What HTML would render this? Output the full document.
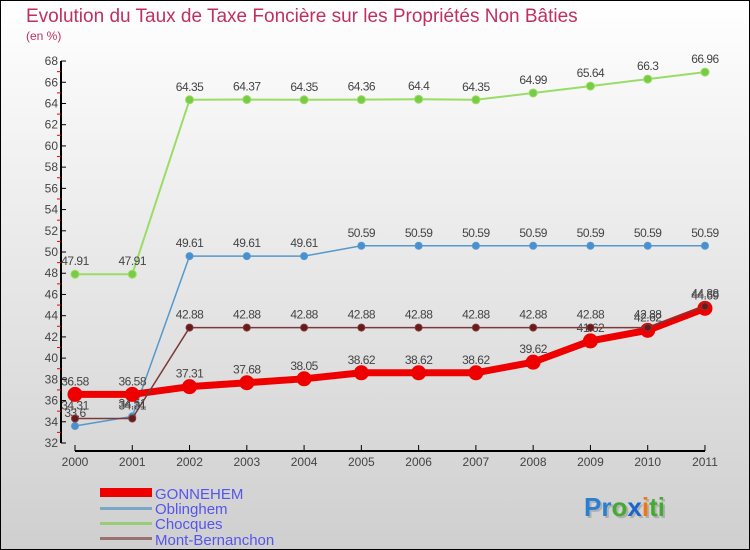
<!DOCTYPE html>
<html><head><meta charset="utf-8"><style>
body{margin:0}
svg{display:block;font-family:"Liberation Sans",sans-serif}
</style></head><body>
<svg id="c" width="750" height="550" xmlns="http://www.w3.org/2000/svg">
<defs><linearGradient id="bg" x1="0" y1="0" x2="0" y2="1"><stop offset="0" stop-color="#ffffff"/><stop offset="1" stop-color="#cfcfcf"/></linearGradient></defs>
<rect x="0.5" y="0.5" width="749" height="549" fill="url(#bg)" stroke="#000"/>
<text x="26" y="22" font-size="19" fill="#c0305f">Evolution du Taux de Taxe Foncière sur les Propriétés Non Bâties</text>
<text x="26" y="40" font-size="12" fill="#c0305f">(en %)</text>
<g id="axes"></g><g id="series"></g>
<g>
<rect x="100" y="488" width="52" height="9" fill="#ee0000"/>
<text x="155" y="499" font-size="15" fill="#5555ee">GONNEHEM</text>
<rect x="100" y="507" width="52" height="3" fill="#7aa7c7"/>
<text x="155" y="514" font-size="15" fill="#5555ee">Oblinghem</text>
<rect x="100" y="522" width="52" height="3" fill="#99cc77"/>
<text x="155" y="529" font-size="15" fill="#5555ee">Chocques</text>
<rect x="100" y="537" width="52" height="3" fill="#9a7070"/>
<text x="155" y="545" font-size="15" fill="#5555ee">Mont-Bernanchon</text>
</g>
<text x="586" y="518" font-size="26" font-weight="bold" fill="#999" opacity="0.6">Proxiti</text>
<text x="584" y="516" font-size="26" font-weight="bold"><tspan fill="#2a7fd0">Pr</tspan><tspan fill="#44aa33">o</tspan><tspan fill="#1a66cc">x</tspan><tspan fill="#ee7711">i</tspan><tspan fill="#44aa33">ti</tspan></text>
</svg>
<script>
const years=["2000","2001","2002","2003","2004","2005","2006","2007","2008","2009","2010","2011"];
const yTicks=[32,34,36,38,40,42,44,46,48,50,52,54,56,58,60,62,64,66,68];
const gonnehem=[36.58,36.58,37.31,37.68,38.05,38.62,38.62,38.62,39.62,41.62,42.62,44.69];
const oblinghem=[33.6,34.51,49.61,49.61,49.61,50.59,50.59,50.59,50.59,50.59,50.59,50.59];
const chocques=[47.91,47.91,64.35,64.37,64.35,64.36,64.4,64.35,64.99,65.64,66.3,66.96];
const montB=[34.31,34.31,42.88,42.88,42.88,42.88,42.88,42.88,42.88,42.88,42.88,44.88];
const NS="http://www.w3.org/2000/svg";
const X=i=>75+i*57.27, Y=v=>443-(v-32)*10.61;
function mk(t,a,p){const e=document.createElementNS(NS,t);for(const k in a)e.setAttribute(k,a[k]);p.appendChild(e);return e;}
const ax=document.getElementById('axes'), sr=document.getElementById('series');
let l=mk('line',{x1:61,y1:Y(68),x2:61,y2:443,stroke:'#000','stroke-width':2},ax);


l=mk('line',{x1:X(0),y1:451,x2:X(11),y2:451,stroke:'#000','stroke-width':2},ax);


yTicks.forEach((v,i)=>{
 mk('line',{x1:61,y1:Y(v),x2:66,y2:Y(v),stroke:'#000'},ax);
 if(i<yTicks.length-1) mk('line',{x1:57,y1:Y(v+1),x2:61,y2:Y(v+1),stroke:'#e00'},ax);
 const t=mk('text',{x:58,y:Y(v)+4,'font-size':12,fill:'#444','text-anchor':'end'},ax);t.textContent=v;
 
 
});
years.forEach((y,i)=>{
 mk('line',{x1:X(i),y1:445,x2:X(i),y2:451,stroke:'#000'},ax);
 const t=mk('text',{x:X(i),y:466,'font-size':12,fill:'#444','text-anchor':'middle'},ax);t.textContent=y;
 
 
});
function series(d,color,w,r,dot,name){
 const g=mk('g',{},sr);
 
 
 mk('polyline',{points:d.map((v,i)=>X(i)+','+Y(v)).join(' '),fill:'none',stroke:color,'stroke-width':w,'stroke-linejoin':'round'},g);
 d.forEach((v,i)=>{
  const c=mk('circle',{cx:X(i),cy:Y(v),r:r,fill:dot,stroke:color},g);
  
  
  const t=mk('text',{x:X(i),y:Y(v)-9,'font-size':12,fill:'#444','text-anchor':'middle','letter-spacing':'-0.5'},g);
  t.textContent=String(v);
  
  
 });
}
series(chocques,'#99dd66',2,4,'#77cc44','chocques');
series(oblinghem,'#5599cc',1.5,3.5,'#4a90d0','oblinghem');
series(gonnehem,'#ee0000',7,7,'#ee0000','gonnehem');
series(montB,'#7a3a3a',1.5,3.5,'#6a1a1a','mont-bernanchon');
</script>
</body></html>
